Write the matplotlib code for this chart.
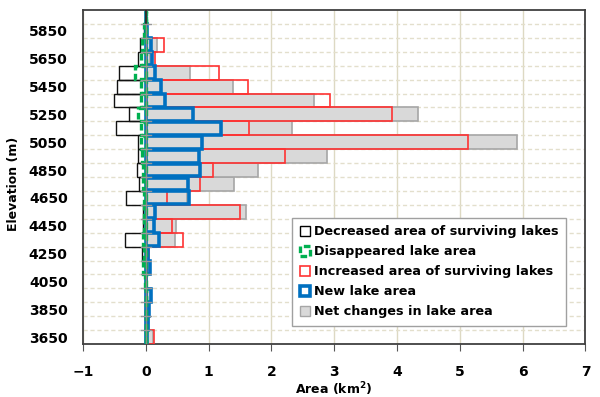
import matplotlib
matplotlib.use('Agg')
import matplotlib.pyplot as plt
from matplotlib.patches import Patch
import numpy as np

# Elevation bins (m), bottom to top
elevation = [3650, 3750, 3850, 3950, 4050, 4150, 4250, 4350, 4450, 4550, 4650, 4750,
             4850, 4950, 5050, 5150, 5250, 5350, 5450, 5550, 5650, 5750, 5850, 5950]

# Areas (km2)
decreased = [-0.01, -0.01, -0.01, -0.01, -0.01, -0.02, -0.06, -0.33, -0.05, -0.05, -0.32, -0.11,
             -0.14, -0.12, -0.12, -0.48, -0.27, -0.51, -0.46, -0.42, -0.12, -0.10, -0.03, 0.0]
disappeared = [0.0, 0.0, 0.0, 0.0, -0.01, -0.05, -0.03, -0.04, -0.03, -0.03, -0.03, -0.04,
               -0.05, -0.06, -0.07, -0.08, -0.12, -0.07, -0.08, -0.17, -0.07, -0.06, -0.03, 0.0]
increased = [0.13, 0.03, 0.02, 0.02, 0.02, 0.02, 0.05, 0.59, 0.41, 1.50, 0.33, 0.86,
             1.07, 2.21, 5.13, 1.65, 3.92, 2.93, 1.62, 1.16, 0.14, 0.29, 0.02, 0.0]
new_lakes = [0.02, 0.04, 0.05, 0.09, 0.01, 0.07, 0.04, 0.21, 0.13, 0.15, 0.68, 0.67,
             0.87, 0.84, 0.90, 1.19, 0.75, 0.31, 0.25, 0.14, 0.10, 0.09, 0.02, 0.0]
net_change = [0.12, 0.05, 0.05, 0.09, 0.01, 0.03, 0.01, 0.47, 0.48, 1.60, 0.66, 1.41,
              1.78, 2.88, 5.91, 2.33, 4.33, 2.68, 1.39, 0.71, 0.06, 0.18, 0.0, 0.0]

fig = plt.figure(figsize=(6, 3.97), dpi=100)
ax = fig.add_axes([0.1383, 0.1335, 0.8375, 0.8413])

y = np.array(elevation)
h = 100

# grid lines
for xv in range(-1, 8):
    ax.axvline(xv, color='#ddd9c3', linewidth=1, zorder=0)
for yb in range(3700, 6000, 100):
    ax.axhline(yb, color='#e3dfcc', linewidth=1, linestyle=(0, (3, 2)), zorder=0)

ax.barh(y, net_change, height=h, color='#d9d9d9', edgecolor='#a6a6a6', linewidth=1.2, zorder=2)
ax.barh(y, increased, height=h, color='none', edgecolor='#ff3333', linewidth=1.2, zorder=3)
ax.barh(y, decreased, height=h, color='none', edgecolor='#111111', linewidth=1.0, zorder=3)
ax.barh(y, new_lakes, height=h * 0.92, color='none', edgecolor='#0070c0', linewidth=2.6, zorder=4)
ax.barh(y, disappeared, height=h * 0.92, color='none', edgecolor='#00b050', linewidth=2.4,
        linestyle=(0, (2, 1)), zorder=5)

# category axis at x = 0
ax.axvline(0, color='#8a8a8a', linewidth=1.0, zorder=6)
ax.plot([0, 0], [5900, 6000], color='#222222', linewidth=1.2, zorder=6)
for yb in range(3700, 6000, 100):
    ax.plot([-0.08, 0.08], [yb, yb], color='#999999', linewidth=1, zorder=6)

ax.set_xlim(-1, 7)
ax.set_ylim(3600, 6000)
ax.set_xticks(range(-1, 8))
ax.set_yticks(range(3650, 5900, 200))
ax.tick_params(axis='y', length=0, pad=11)
ax.tick_params(axis='x', length=5, direction='out', color='#555555', pad=10)
for lbl in ax.get_xticklabels() + ax.get_yticklabels():
    lbl.set_fontweight('bold')
    lbl.set_fontsize(10)
for s in ax.spines.values():
    s.set_color('#404040')
    s.set_linewidth(1.3)

ax.set_xlabel('Area (km$^\\mathbf{2}$)', fontsize=9, fontweight='bold', labelpad=1)
ax.set_ylabel('Elevation (m)', fontsize=9, fontweight='bold', labelpad=8)
ax.yaxis.set_label_coords(-0.125, 0.48)

handles = [
    Patch(facecolor='white', edgecolor='black', linewidth=1, label='Decreased area of surviving lakes'),
    Patch(facecolor='white', edgecolor='#00b050', linewidth=2.4, linestyle=(0, (2, 1)), label='Disappeared lake area'),
    Patch(facecolor='white', edgecolor='#ff3333', linewidth=1.2, label='Increased area of surviving lakes'),
    Patch(facecolor='white', edgecolor='#0070c0', linewidth=2.6, label='New lake area'),
    Patch(facecolor='#d9d9d9', edgecolor='#a6a6a6', linewidth=1, label='Net changes in lake area'),
]
leg = ax.legend(handles=handles, loc='lower right', bbox_to_anchor=(0.962, 0.054),
                prop={'weight': 'bold', 'size': 9.2}, handlelength=0.8, handleheight=0.8,
                handletextpad=0.3, labelspacing=0.55, borderpad=0.6, borderaxespad=0,
                fancybox=False, framealpha=1, edgecolor='#a0a0a0')
leg.get_frame().set_linewidth(1)
leg.set_zorder(10)

fig.savefig('out.png', dpi=100)
